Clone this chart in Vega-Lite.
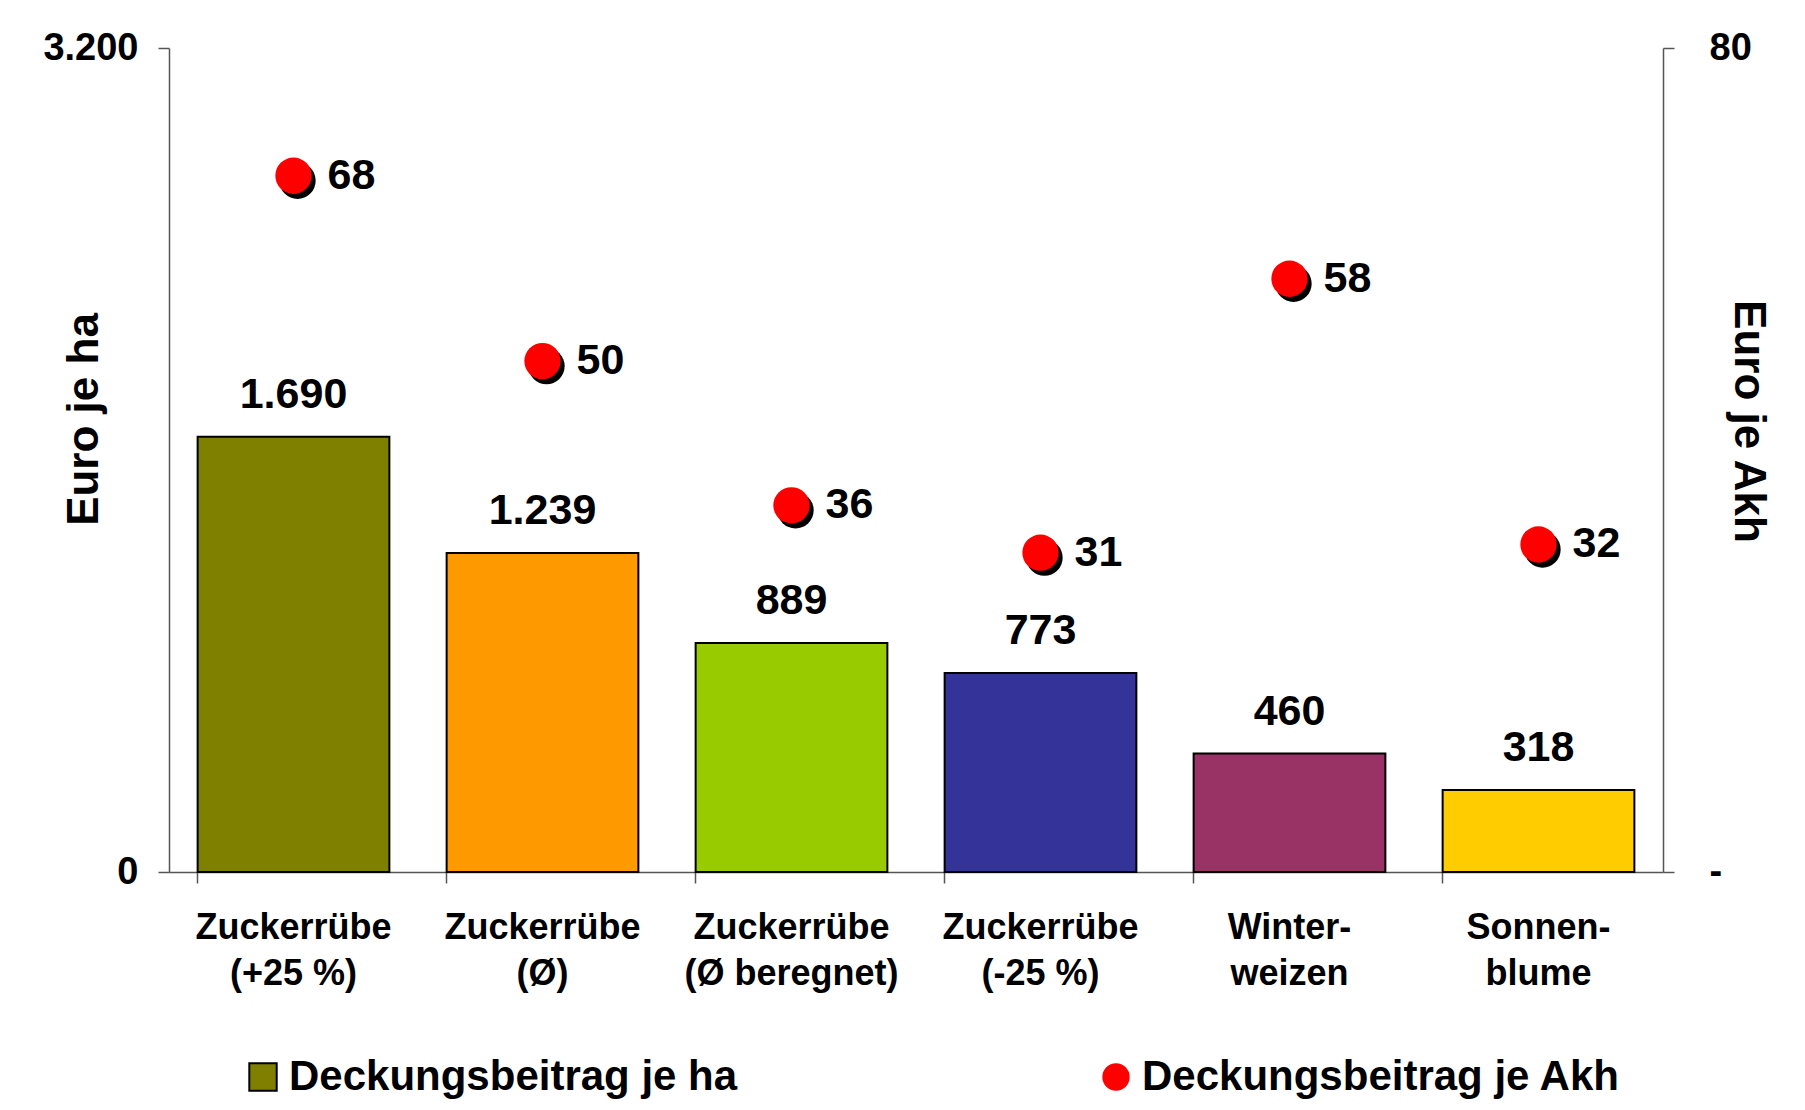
{
  "$schema": "https://vega.github.io/schema/vega-lite/v6.json",
  "autosize": "none",
  "width": 1494,
  "height": 824,
  "padding": {"left": 169, "top": 48, "right": 142, "bottom": 238},
  "background": "white",
  "config": {
    "view": {"stroke": null},
    "font": "Liberation Sans",
    "locale": {"number": {"decimal": ",", "thousands": ".", "grouping": [3], "currency": ["", " €"]}},
    "axis": {"grid": false, "labelFont": "Liberation Sans", "labelFontWeight": "bold", "labelColor": "black", "labelLimit": 0, "titleFont": "Liberation Sans", "titleFontWeight": "bold", "titleColor": "black", "domainColor": "#555555", "domainWidth": 1.5, "tickColor": "#555555", "tickWidth": 1.5, "tickSize": 11}
  },
  "data": {
    "values": [
      {"kultur": "Zuckerrübe\n(+25 %)", "ha": 1690, "akh": 67.6, "serie": "Deckungsbeitrag je Akh"},
      {"kultur": "Zuckerrübe\n(Ø)", "ha": 1239, "akh": 49.6, "serie": "Deckungsbeitrag je Akh"},
      {"kultur": "Zuckerrübe\n(Ø beregnet)", "ha": 889, "akh": 35.6, "serie": "Deckungsbeitrag je Akh"},
      {"kultur": "Zuckerrübe\n(-25 %)", "ha": 773, "akh": 31.0, "serie": "Deckungsbeitrag je Akh"},
      {"kultur": "Winter-\nweizen", "ha": 460, "akh": 57.6, "serie": "Deckungsbeitrag je Akh"},
      {"kultur": "Sonnen-\nblume", "ha": 318, "akh": 31.8, "serie": "Deckungsbeitrag je Akh"}
    ]
  },
  "encoding": {
    "x": {
      "field": "kultur", "type": "nominal", "sort": null,
      "scale": {"paddingInner": 0.23, "paddingOuter": 0.115},
      "axis": {"title": null, "labelAngle": 0, "labelFontSize": 36, "labelPadding": 27, "labelLineHeight": 46, "bandPosition": 0, "labelExpr": "split(datum.label, '\\n')", "labelBaseline": "top"}
    }
  },
  "layer": [
    {
      "encoding": {
        "y": {
          "field": "ha", "type": "quantitative",
          "scale": {"domain": [0, 3200], "nice": false},
          "axis": {"title": "Euro je ha", "values": [0, 3200], "format": ",d", "labelFontSize": 38, "labelPadding": 20, "titleFontSize": 44, "titleAngle": -90, "titleX": -85, "titleY": 371, "titleAlign": "center", "titleBaseline": "middle"}
        }
      },
      "layer": [
        {
          "mark": {"type": "bar", "stroke": "black", "strokeWidth": 2},
          "encoding": {
            "fill": {
              "field": "kultur", "type": "nominal", "sort": null, "legend": null,
              "scale": {"range": ["#808000", "#FF9900", "#99CC00", "#333399", "#993366", "#FFCC00"]}
            }
          }
        },
        {
          "mark": {"type": "text", "font": "Liberation Sans", "fontWeight": "bold", "fontSize": 43, "baseline": "alphabetic", "dy": -29, "color": "black"},
          "encoding": {"text": {"field": "ha", "type": "quantitative", "format": ",d"}}
        }
      ]
    },
    {
      "encoding": {
        "y": {
          "field": "akh", "type": "quantitative",
          "scale": {"domain": [0, 80], "nice": false},
          "axis": {"orient": "right", "title": "Euro je Akh", "values": [0, 80], "labelExpr": "datum.value == 0 ? '-' : datum.label", "labelAlign": "left", "labelFontSize": 38, "labelPadding": 35, "titleFontSize": 44, "titleAngle": 90, "titleX": 84, "titleY": 373, "titleAlign": "center", "titleBaseline": "middle"}
        }
      },
      "layer": [
        {
          "mark": {"type": "point", "filled": true, "opacity": 1, "color": "black", "size": 1320, "xOffset": 4, "yOffset": 5}
        },
        {
          "mark": {"type": "point", "filled": true, "opacity": 1, "size": 1320},
          "encoding": {
            "color": {
              "field": "serie", "type": "nominal",
              "scale": {"domain": ["Deckungsbeitrag je ha", "Deckungsbeitrag je Akh"], "range": ["#808000", "#FF0000"]},
              "legend": {"title": null, "orient": "none", "direction": "horizontal", "legendX": 73, "legendY": 1008, "labelFont": "Liberation Sans", "labelFontWeight": "bold", "labelFontSize": 42, "labelColor": "black", "labelLimit": 0, "labelOffset": 5, "symbolSize": 750, "columnPadding": 357, "symbolOpacity": 1,
                "encode": {"symbols": {"update": {"stroke": {"signal": "datum.value === 'Deckungsbeitrag je ha' ? 'black' : 'transparent'"}, "strokeWidth": {"value": 2}}}}}
            },
            "shape": {
              "field": "serie", "type": "nominal",
              "scale": {"domain": ["Deckungsbeitrag je ha", "Deckungsbeitrag je Akh"], "range": ["square", "circle"]},
              "legend": {"title": null, "orient": "none", "direction": "horizontal", "legendX": 73, "legendY": 1008, "labelFont": "Liberation Sans", "labelFontWeight": "bold", "labelFontSize": 42, "labelColor": "black", "labelLimit": 0, "labelOffset": 5, "symbolSize": 750, "columnPadding": 357, "symbolOpacity": 1,
                "encode": {"symbols": {"update": {"stroke": {"signal": "datum.value === 'Deckungsbeitrag je ha' ? 'black' : 'transparent'"}, "strokeWidth": {"value": 2}}}}}
            }
          }
        },
        {
          "mark": {"type": "text", "font": "Liberation Sans", "fontWeight": "bold", "fontSize": 43, "align": "left", "baseline": "middle", "dx": 34, "color": "black"},
          "encoding": {"text": {"field": "akh", "type": "quantitative", "format": ".0f"}}
        }
      ]
    }
  ],
  "resolve": {"scale": {"y": "independent"}}
}
